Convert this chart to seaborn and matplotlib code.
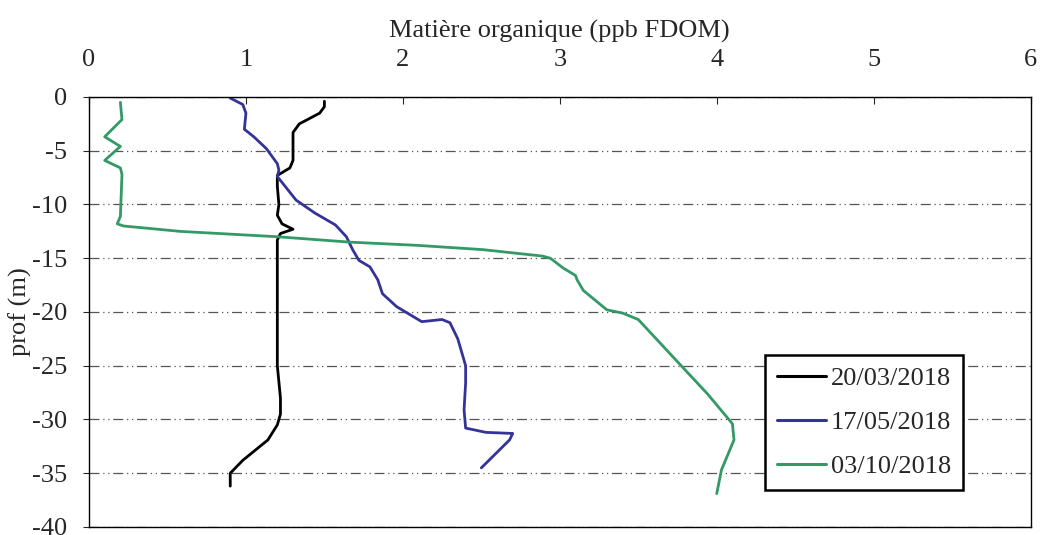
import pandas as pd
import matplotlib.pyplot as plt
import seaborn as sns
from matplotlib.lines import Line2D

# profils (x = ppb FDOM, y = profondeur m)
dates = ['20/03/2018', '17/05/2018', '03/10/2018']

fdom_mars = [1.50, 1.50, 1.47, 1.34, 1.30, 1.30, 1.30, 1.28, 1.20, 1.20, 1.21, 1.20,
             1.23, 1.30, 1.22, 1.20, 1.20, 1.20, 1.22, 1.22, 1.20, 1.14, 0.98, 0.90, 0.90]
prof_mars = [-0.4, -0.9, -1.5, -2.5, -3.3, -5.0, -5.9, -6.6, -7.3, -8.3, -10.0, -11.0,
             -11.8, -12.3, -12.7, -13.3, -20.0, -25.0, -28.0, -29.5, -30.5, -31.9, -33.8, -35.0, -36.2]

fdom_mai = [0.90, 0.98, 1.00, 0.99, 1.05, 1.13, 1.20, 1.21, 1.20, 1.32, 1.44, 1.57, 1.64,
            1.68, 1.72, 1.79, 1.84, 1.87, 1.96, 2.12, 2.25, 2.30, 2.35, 2.40, 2.40, 2.39,
            2.40, 2.53, 2.70, 2.68, 2.50]
prof_mai = [-0.1, -0.7, -1.5, -3.0, -3.7, -4.8, -6.2, -6.8, -7.4, -9.6, -10.8, -11.9, -13.0,
            -14.2, -15.2, -15.8, -17.0, -18.3, -19.5, -20.9, -20.7, -21.0, -22.5, -25.0, -26.6, -29.1,
            -30.8, -31.2, -31.3, -31.9, -34.5]

fdom_oct = [0.20, 0.21, 0.10, 0.20, 0.10, 0.20, 0.21, 0.20, 0.18, 0.22, 0.58, 1.20, 1.66,
            2.09, 2.51, 2.89, 2.94, 3.02, 3.10, 3.11, 3.15, 3.30, 3.40, 3.50, 3.57, 3.78,
            3.94, 4.10, 4.11, 4.03, 4.00]
prof_oct = [-0.5, -2.1, -3.7, -4.6, -5.9, -6.6, -7.2, -11.1, -11.8, -12.0, -12.5, -13.0, -13.5,
            -13.8, -14.2, -14.8, -15.0, -15.9, -16.6, -17.0, -18.0, -19.8, -20.1, -20.7, -21.8, -25.1,
            -27.6, -30.4, -31.9, -34.7, -36.9]

couleurs = ['#000000', '#333399', '#339966']

if __name__ == "__main__":
    sns.set_style('white')
    plt.rcParams['font.family'] = ['Liberation Serif', 'DejaVu Serif']
    plt.rcParams['axes.unicode_minus'] = False

    frames = []
    for d, x, y in zip(dates, [fdom_mars, fdom_mai, fdom_oct], [prof_mars, prof_mai, prof_oct]):
        frames.append(pd.DataFrame({'fdom': x, 'prof': y, 'date': d}))
    datos = pd.concat(frames, ignore_index=True)

    fig = plt.figure(figsize=(10.41, 5.35), dpi=100)
    ax = fig.add_axes([0.0855, 0.015, 0.9045, 0.8037])
    sns.lineplot(data=datos, x='fdom', y='prof', hue='date', palette=couleurs,
                 sort=False, estimator=None, units='date', linewidth=2.0, ax=ax, legend=False)

    ax.set_xlim(0, 6)
    ax.set_ylim(-40, 0)
    ax.set_xticks(range(0, 7))
    ax.set_yticks(range(-40, 1, 5))
    ax.xaxis.tick_top()
    ax.xaxis.set_label_position('top')
    ax.tick_params(axis='x', direction='in', length=5, labelsize=19, pad=19, top=True, bottom=False)
    ax.tick_params(axis='y', direction='out', length=4, labelsize=19, left=True, pad=12)
    ax.set_xlabel('Matière organique (ppb FDOM)', fontsize=19, labelpad=8)
    ax.set_ylabel('prof (m)', fontsize=19, labelpad=0)
    ax.grid(axis='y', color='#555555', linewidth=0.9, linestyle=(0, (8, 3, 1, 3, 1, 3)))
    for s in ax.spines.values():
        s.set_color('black')
        s.set_linewidth(1.0)

    handles = [Line2D([], [], color=c, linewidth=2.2) for c in couleurs]
    leg = ax.legend(handles, dates, loc='lower left', bbox_to_anchor=(0.718, 0.086),
                    fontsize=19, frameon=True, fancybox=False, handlelength=1.85,
                    borderpad=0.45, labelspacing=0.78, handletextpad=0.2, borderaxespad=0)
    leg.get_frame().set_edgecolor('black')
    leg.get_frame().set_linewidth(1.8)
    leg.get_frame().set_alpha(1)

    plt.savefig('out.png', dpi=100)
    plt.close()
